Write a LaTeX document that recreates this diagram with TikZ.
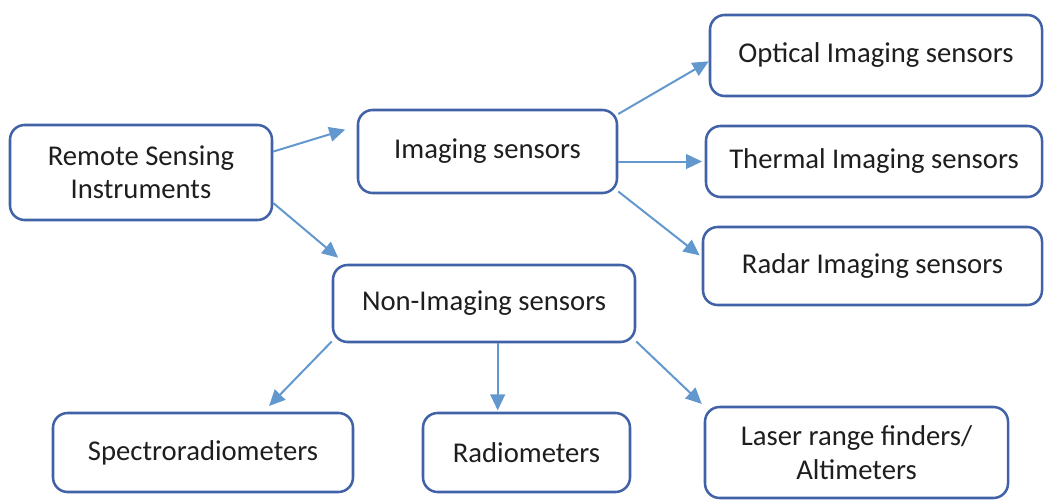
\documentclass[tikz,border=0pt]{standalone}
\usepackage{fontspec}
\setmainfont{Carlito}
\usetikzlibrary{arrows.meta,positioning}
\definecolor{BoxBlue}{RGB}{66,98,168}
\definecolor{ArrowBlue}{RGB}{98,152,206}
\definecolor{TextGray}{RGB}{30,30,30}

\begin{document}
\begin{tikzpicture}
    [
    x=0.75pt, y=-0.75pt,
    block/.style ={
        rectangle,
        draw=BoxBlue,
        line width=1.9pt,
        fill=white,
        text=TextGray,
        align=center,
        font=\fontsize{21.5}{25}\selectfont,
        rounded corners=11pt,
        inner sep=0pt
    },
    a/.style={
        -{Triangle[length=12pt,width=11pt]},
        draw=ArrowBlue,
        line width=1.5pt
    }
    ]
    \useasboundingbox (0,0) rectangle (1044,499);

    \node (rsi)[block,minimum width=196.5pt,minimum height=71.25pt] at (141,172.5) {Remote Sensing\\Instruments};
    \node (img)[block,minimum width=194.25pt,minimum height=62.25pt] at (487.5,151.5) {Imaging sensors};
    \node (opt)[block,minimum width=249pt,minimum height=60.75pt] at (876,55.5) {Optical Imaging sensors};
    \node (thm)[block,minimum width=252pt,minimum height=53.25pt] at (874,161.5) {Thermal Imaging sensors};
    \node (rad)[block,minimum width=254.25pt,minimum height=58.5pt] at (872.5,266) {Radar Imaging sensors};
    \node (non)[block,minimum width=226.5pt,minimum height=57.75pt] at (484,303.5) {Non-Imaging sensors};
    \node (spe)[block,minimum width=225pt,minimum height=59.25pt] at (203,452.5) {Spectroradiometers};
    \node (rdm)[block,minimum width=155.25pt,minimum height=59.25pt] at (526.5,452.5) {Radiometers};
    \node (las)[block,minimum width=227.25pt,minimum height=68.25pt] at (856.5,452.5) {Laser range finders/\\Altimeters};

    \draw[a,shorten >=9pt] (rsi.9) -- (img.169);
    \draw[a,shorten >=7pt] (rsi.-13) -- (non.164);
    \draw[a] (img.16) -- (opt.182);
    \draw[a,shorten >=2pt] (img.east |- thm.west) -- (thm.west);
    \draw[a,shorten >=2pt] (img.-17) -- (rad.177);
    \draw[a,shorten >=6pt] (non.194) -- (spe.34);
    \draw[a,shorten >=1pt] (non.-71) -- (non.-71 |- rdm.north);
    \draw[a,shorten >=2pt] (non.-14) -- (las.163);

\end{tikzpicture}
\end{document}
